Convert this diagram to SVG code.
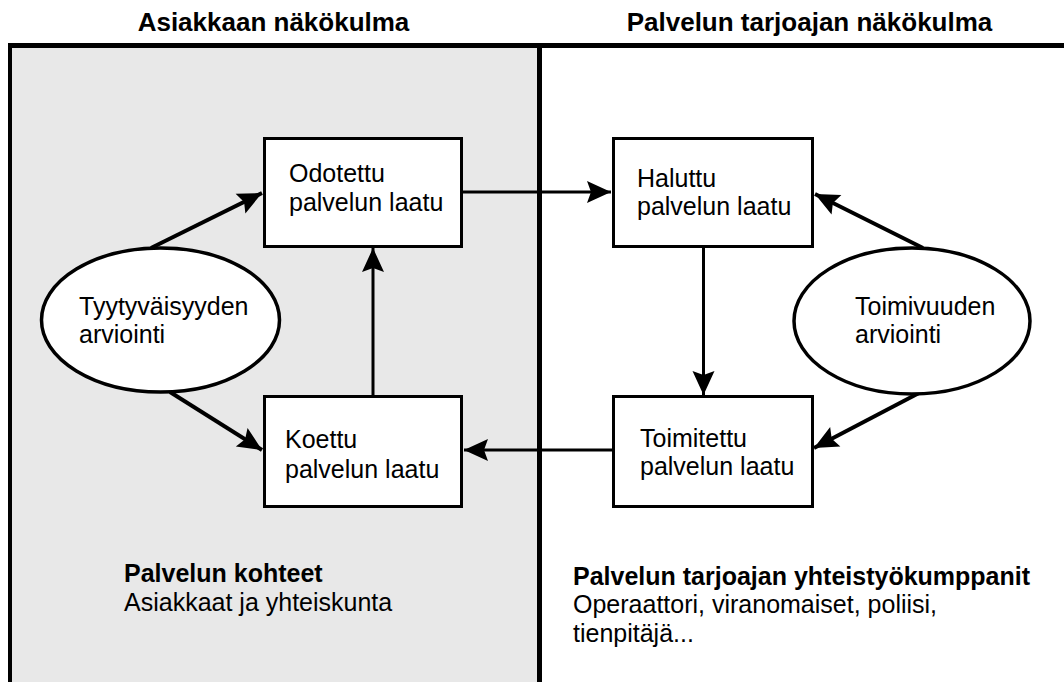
<svg xmlns="http://www.w3.org/2000/svg" width="1064" height="682" viewBox="0 0 1064 682">
<style>
text{font-family:"Liberation Sans",Arial,sans-serif;fill:#000;font-size:25px}
.title{font-weight:bold;font-size:26px;text-anchor:middle}
.b{font-weight:bold}
.box{fill:#fff;stroke:#000;stroke-width:3}
.ell{fill:#fff;stroke:#000;stroke-width:3.5}
.con{fill:none;stroke:#000;stroke-width:3;marker-end:url(#ah)}
.dg{stroke-width:4}
</style>
<defs>
<marker id="ah" markerUnits="userSpaceOnUse" markerWidth="26" markerHeight="24" refX="24" refY="11" orient="auto" overflow="visible">
<path d="M0,0 L24,11 L0,22 L4,11 Z" fill="#000"/>
</marker>
</defs>
<rect x="10" y="46" width="529" height="640" fill="#e8e8e8"/>
<g id="frame" fill="none" stroke="#000">
<line x1="8" y1="45.5" x2="1064" y2="45.5" stroke-width="5"/>
<line x1="10" y1="43" x2="10" y2="682" stroke-width="4"/>
<line x1="539.5" y1="43" x2="539.5" y2="682" stroke-width="5"/>
</g>
<text class="title" x="273.5" y="31">Asiakkaan näkökulma</text>
<text class="title" x="809.5" y="31">Palvelun tarjoajan näkökulma</text>
<g id="connectors">
<line class="con" x1="463" y1="192" x2="611" y2="192"/>
<line class="con" x1="612" y1="450" x2="464" y2="450"/>
<line class="con" x1="703.5" y1="248" x2="703.5" y2="395"/>
<line class="con" x1="373" y1="395" x2="373" y2="248"/>
<line class="con dg" x1="151" y1="248" x2="262" y2="193"/>
<line class="con dg" x1="170" y1="392" x2="262" y2="450"/>
<line class="con dg" x1="923" y1="248" x2="815" y2="194"/>
<line class="con dg" x1="919" y1="393" x2="814" y2="448"/>
</g>
<g id="odotettu">
<rect class="box" x="264.5" y="138.5" width="197" height="108"/>
<text x="289" y="182">Odotettu</text>
<text x="289" y="211">palvelun laatu</text>
</g>
<g id="koettu">
<rect class="box" x="264.5" y="396.5" width="197" height="110"/>
<text x="285" y="448">Koettu</text>
<text x="285" y="478">palvelun laatu</text>
</g>
<g id="haluttu">
<rect class="box" x="613.5" y="138.5" width="199" height="108"/>
<text x="637" y="187">Haluttu</text>
<text x="637" y="215">palvelun laatu</text>
</g>
<g id="toimitettu">
<rect class="box" x="613.5" y="396.5" width="199" height="110"/>
<text x="640" y="447">Toimitettu</text>
<text x="640" y="475">palvelun laatu</text>
</g>
<g id="tyytyvaisyys">
<ellipse class="ell" cx="160.5" cy="320" rx="119" ry="72"/>
<text x="79" y="315">Tyytyväisyyden</text>
<text x="79" y="343">arviointi</text>
</g>
<g id="toimivuus">
<ellipse class="ell" cx="912" cy="321" rx="118" ry="73"/>
<text x="855" y="315">Toimivuuden</text>
<text x="855" y="343">arviointi</text>
</g>
<g id="kohteet">
<text class="b" x="124" y="582">Palvelun kohteet</text>
<text x="124" y="611">Asiakkaat ja yhteiskunta</text>
</g>
<g id="kumppanit">
<text class="b" x="573" y="585">Palvelun tarjoajan yhteistyökumppanit</text>
<text x="573" y="613">Operaattori, viranomaiset, poliisi,</text>
<text x="573" y="642">tienpitäjä...</text>
</g>
</svg>
